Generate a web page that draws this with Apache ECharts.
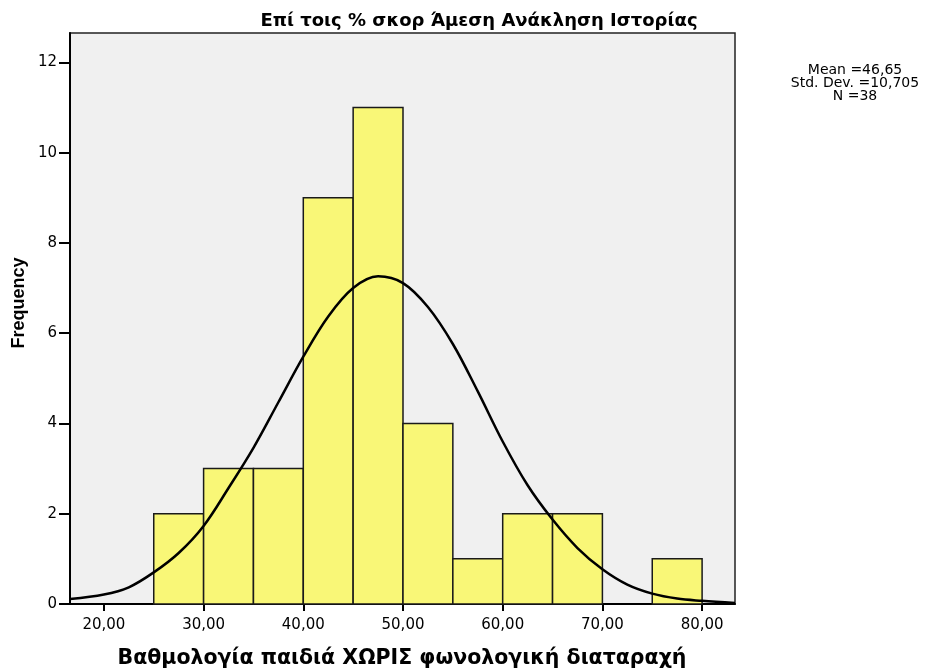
<!DOCTYPE html>
<html>
<head>
<meta charset="utf-8">
<script src="https://cdn.jsdelivr.net/npm/echarts@6/dist/echarts.min.js"></script>
<style>
html,body{margin:0;padding:0;background:#fff;}
#chart{width:926px;height:670px;}
</style>
</head>
<body>
<div id="chart"></div>
<script>
// histogram bins (lower edge, width 5) and counts
var binStarts = [25, 30, 35, 40, 45, 50, 55, 60, 65, 70, 75];
var binWidth = 5;
var counts = [2, 3, 3, 9, 11, 4, 1, 2, 2, 0, 1];
// normal curve
var curveX = [16.6, 20, 22.5, 25, 27.5, 30, 32.5, 35, 37.5, 40, 42.5, 45, 47.5, 50, 52.5, 55, 57.5, 60, 62.5, 65, 67.5, 70, 72.5, 75, 77.5, 80, 83.3];
var curveY = [0.11, 0.21, 0.37, 0.70, 1.13, 1.73, 2.57, 3.46, 4.47, 5.48, 6.37, 7.0, 7.26, 7.11, 6.58, 5.76, 4.71, 3.60, 2.63, 1.87, 1.24, 0.77, 0.43, 0.23, 0.12, 0.07, 0.02];
var xTicks = [20, 30, 40, 50, 60, 70, 80];
var yTicks = [0, 2, 4, 6, 8, 10, 12];
var statLines = ['Mean =46,65', 'Std. Dev. =10,705', 'N =38'];

var font = "'DejaVu Sans', 'Liberation Sans', sans-serif";

var barData = [];
for (var i = 0; i < binStarts.length; i++) {
    if (counts[i] > 0) barData.push([binStarts[i], binStarts[i] + binWidth, counts[i]]);
}
var curveData = curveX.map(function (x, i) { return [x, curveY[i]]; });

var graphics = statLines.map(function (t, i) {
    return {
        type: 'text',
        x: 855, y: 70 + i * 13,
        style: {text: t, align: 'center', verticalAlign: 'middle', fontFamily: font, fontSize: 14, fill: '#000'}
    };
});
graphics.push({
    type: 'text',
    x: 19, y: 303,
    rotation: Math.PI / 2,
    style: {text: 'Frequency', align: 'center', verticalAlign: 'middle', fontFamily: "'Liberation Sans', Arial, sans-serif", fontSize: 18, fontWeight: 'bold', fill: '#000'}
});
graphics.push({
    type: 'text',
    x: 479, y: 21,
    style: {text: 'Επί τοις % σκορ Άμεση Ανάκληση Ιστορίας', align: 'center', verticalAlign: 'middle', fontFamily: font, fontSize: 18, fontWeight: 'bold', fill: '#000'}
});
graphics.push({
    type: 'text',
    x: 402, y: 659,
    style: {text: 'Βαθμολογία παιδιά ΧΩΡΙΣ φωνολογική διαταραχή', align: 'center', verticalAlign: 'middle', fontFamily: font, fontSize: 20.5, fontWeight: 'bold', fill: '#000'}
});

var myChart = echarts.init(document.getElementById('chart'));
var option = {
    animation: false,
    grid: {
        left: 70, top: 33, right: 191, bottom: 66,
        outerBoundsMode: 'none',
        show: true,
        backgroundColor: '#f0f0f0',
        borderColor: '#222',
        borderWidth: 1.5
    },
    xAxis: {
        type: 'value',
        min: 16.6,
        max: 83.3,
        axisLine: {lineStyle: {color: '#000', width: 2}},
        axisTick: {show: true, length: 7, customValues: xTicks, lineStyle: {color: '#000', width: 2}},
        axisLabel: {
            customValues: xTicks,
            fontFamily: font, fontSize: 15, color: '#000', margin: 14,
            formatter: function (v) { return v.toFixed(2).replace('.', ','); }
        },
        splitLine: {show: false}
    },
    yAxis: {
        type: 'value',
        min: 0,
        max: 12.65,
        axisLine: {show: true, lineStyle: {color: '#000', width: 2}},
        axisTick: {show: true, length: 11, customValues: yTicks, lineStyle: {color: '#000', width: 2}},
        axisLabel: {customValues: yTicks, fontFamily: font, fontSize: 15, color: '#000', margin: 13},
        splitLine: {show: false}
    },
    graphic: graphics,
    series: [
        {
            type: 'custom',
            data: barData,
            renderItem: function (params, api) {
                var p0 = api.coord([api.value(0), api.value(2)]);
                var p1 = api.coord([api.value(1), 0]);
                return {
                    type: 'rect',
                    shape: {x: p0[0], y: p0[1], width: p1[0] - p0[0], height: p1[1] - p0[1]},
                    style: {fill: '#f9f777', stroke: '#1a1a1a', lineWidth: 1.5}
                };
            },
            encode: {x: [0, 1], y: 2}
        },
        {
            type: 'line',
            data: curveData,
            smooth: 0.35,
            showSymbol: false,
            lineStyle: {color: '#000', width: 2.5}
        }
    ]
};
myChart.setOption(option);
</script>
</body>
</html>
